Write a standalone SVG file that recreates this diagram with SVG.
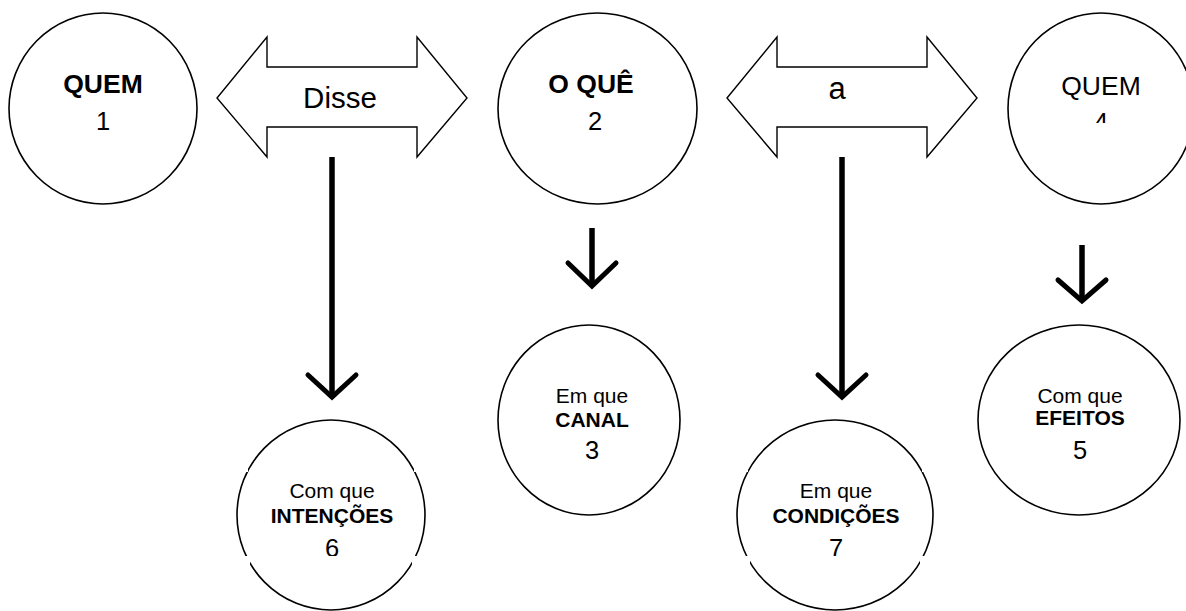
<svg xmlns="http://www.w3.org/2000/svg" width="1186" height="611" viewBox="0 0 1186 611">
<style>
.node{fill:#fff;stroke:#000;stroke-width:1.6}
.dbl{fill:#fff;stroke:#000;stroke-width:1.4;stroke-linejoin:miter}
.t{font-family:"Liberation Sans",Arial,sans-serif;fill:#000;text-anchor:middle}
.b{font-weight:bold}
.lbl{font-size:21px}
.num{font-size:25.5px}
.top{font-size:26.5px}
.conn{fill:none;stroke:#000;stroke-width:5.5;stroke-linecap:butt}
.head{fill:none;stroke:#000;stroke-width:5;stroke-linecap:round;stroke-linejoin:miter}
.gap{fill:#fff;stroke:none}
</style>
<defs>
<clipPath id="c4"><rect x="1000" y="0" width="186" height="123"/></clipPath>
<clipPath id="c3"><rect x="490" y="300" width="200" height="161"/></clipPath>
<clipPath id="c5"><rect x="970" y="300" width="216" height="161"/></clipPath>
<clipPath id="c6"><rect x="230" y="400" width="200" height="156"/></clipPath>
<clipPath id="c7"><rect x="730" y="400" width="210" height="156"/></clipPath>
</defs>

<g id="connectors">
<g id="arrow-disse">
<polygon class="dbl" points="217,98 267,37 267,67 417,67 417,37 467,98 417,157 417,127 267,127 267,157"/>
<text class="t" x="340" y="108" style="font-size:29.5px">Disse</text>
</g>
<g id="arrow-a">
<polygon class="dbl" points="727,98 777,37 777,67 927,67 927,37 977,98 927,157 927,127 777,127 777,157"/>
<text class="t" x="837" y="99" style="font-size:31px">a</text>
</g>
<line class="conn" x1="332" y1="157" x2="332" y2="396"/>
<polyline class="head" points="308,375 332,397 356,375"/>
<line class="conn" x1="842" y1="157" x2="842" y2="396"/>
<polyline class="head" points="818,375 842,397 866,375"/>
<line class="conn" x1="592" y1="228" x2="592" y2="285"/>
<polyline class="head" points="568,263 592,286 616,263"/>
<line class="conn" x1="1082" y1="245" x2="1082" y2="300"/>
<polyline class="head" points="1058,280 1082,301 1106,280"/>
</g>

<g id="node1">
<ellipse class="node" cx="103" cy="108.5" rx="94" ry="95.5"/>
<text class="t b top" x="103" y="93">QUEM</text>
<text class="t num" x="103" y="130">1</text>
</g>

<g id="node2">
<ellipse class="node" cx="597.5" cy="108.5" rx="99.5" ry="95.5"/>
<text class="t b top" x="591" y="93">O QUÊ</text>
<text class="t num" x="595" y="130">2</text>
</g>

<g id="node4">
<ellipse class="node" cx="1101" cy="108.5" rx="93" ry="95.5"/>
<text class="t top" x="1101" y="95">QUEM</text>
<text class="t num" x="1101" y="131" clip-path="url(#c4)">4</text>
</g>

<g id="node3">
<ellipse class="node" cx="589" cy="420" rx="91" ry="95"/>
<text class="t lbl" x="592" y="403">Em que</text>
<text class="t b lbl" x="592" y="427">CANAL</text>
<text class="t num" x="592" y="459" clip-path="url(#c3)">3</text>
</g>

<g id="node5">
<ellipse class="node" cx="1079" cy="420" rx="101" ry="95"/>
<text class="t lbl" x="1080" y="403">Com que</text>
<text class="t b lbl" x="1080" y="425">EFEITOS</text>
<text class="t num" x="1080" y="459" clip-path="url(#c5)">5</text>
</g>

<g id="node6">
<ellipse class="node" cx="331" cy="515" rx="94" ry="95"/>
<rect class="gap" x="234" y="467" width="14" height="5"/>
<rect class="gap" x="414" y="467" width="14" height="5"/>
<rect class="gap" x="234" y="556" width="16" height="10"/>
<rect class="gap" x="412" y="556" width="16" height="10"/>
<text class="t lbl" x="332" y="498">Com que</text>
<text class="t b lbl" x="332" y="523">INTENÇÕES</text>
<text class="t num" x="332" y="557" clip-path="url(#c6)">6</text>
</g>

<g id="node7">
<ellipse class="node" cx="835" cy="515" rx="98" ry="95"/>
<rect class="gap" x="734" y="467" width="14" height="5"/>
<rect class="gap" x="922" y="467" width="14" height="5"/>
<rect class="gap" x="734" y="556" width="16" height="10"/>
<rect class="gap" x="920" y="556" width="16" height="10"/>
<text class="t lbl" x="836" y="498">Em que</text>
<text class="t b lbl" x="836" y="523">CONDIÇÕES</text>
<text class="t num" x="836" y="557" clip-path="url(#c7)">7</text>
</g>
</svg>
